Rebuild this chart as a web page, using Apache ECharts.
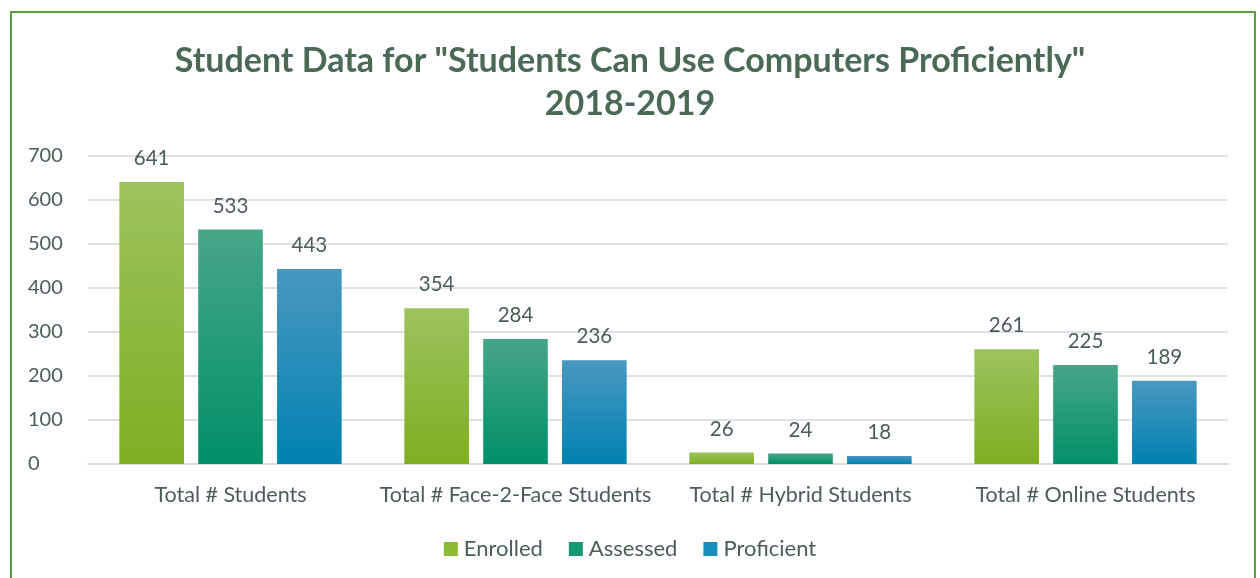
<!DOCTYPE html>
<html><head><meta charset="utf-8">
<script src="https://cdn.jsdelivr.net/npm/echarts@6/dist/echarts.min.js"></script>
<style>html,body{margin:0;padding:0;background:#fff;}#c{width:1260px;height:578px;}
#frame{position:absolute;left:10px;top:11px;width:1246px;height:580px;border:2px solid #5b9f3f;box-sizing:border-box;pointer-events:none;}</style>
</head><body><div id="c"></div><div id="frame"></div>
<script>
const categories = ["Total # Students", "Total # Face-2-Face Students", "Total # Hybrid Students", "Total # Online Students"];
const enrolled = [641, 354, 26, 261];
const assessed = [533, 284, 24, 225];
const proficient = [443, 236, 18, 189];
const seriesNames = ["Enrolled", "Assessed", "Proficient"];
const titleLines = ['Student Data for "Students Can Use Computers Proficiently"', '2018-2019'];

const txt = '#4a5f52';
const font = 'Lato, "Open Sans", sans-serif';
function grad(top, bottom) {
  return new echarts.graphic.LinearGradient(0, 0, 0, 1, [{offset: 0, color: top}, {offset: 1, color: bottom}]);
}
const colors = [grad('#9cc35c', '#7fae22'), grad('#46a688', '#009068'), grad('#4898c0', '#0082af')];
const legendColors = ['#8bbb33', '#159a74', '#168fbc'];
const chart = echarts.init(document.getElementById('c'));
const data = [enrolled, assessed, proficient];
chart.setOption({
  animation: false,
  textStyle: {fontFamily: font},
  title: {
    text: titleLines.join('\n'), left: 'center', top: 35,
    textStyle: {fontFamily: font, fontSize: 34, fontWeight: 'bold', color: '#4a6a55', lineHeight: 43}
  },
  legend: {
    bottom: 13, left: 'center', itemWidth: 14, itemHeight: 14, itemGap: 26,
    icon: 'rect',
    textStyle: {fontFamily: font, fontSize: 22, color: txt, padding: [0, 0, 0, 1]},
    data: seriesNames.map((n, i) => ({name: n, itemStyle: {color: legendColors[i]}}))
  },
  grid: {left: 88, right: 32, top: 156, bottom: 114},
  xAxis: {
    type: 'category', data: categories,
    axisLine: {lineStyle: {color: '#d9dedb', width: 2}},
    axisTick: {show: false},
    axisLabel: {fontFamily: font, fontSize: 21.5, color: txt, margin: 20, interval: 0}
  },
  yAxis: {
    type: 'value', min: 0, max: 700, interval: 100,
    axisLine: {show: false}, axisTick: {show: false},
    splitLine: {lineStyle: {color: '#dde3df', width: 2}},
    axisLabel: {fontFamily: font, fontSize: 20, color: txt, margin: 60, align: 'left'}
  },
  series: seriesNames.map((n, i) => ({
    name: n, type: 'bar', data: data[i],
    barGap: '22%', barCategoryGap: '22%',
    itemStyle: {color: colors[i]},
    label: {show: true, position: 'top', distance: 13, fontFamily: font, fontSize: 20.5, color: txt}
  }))
});
</script></body></html>
